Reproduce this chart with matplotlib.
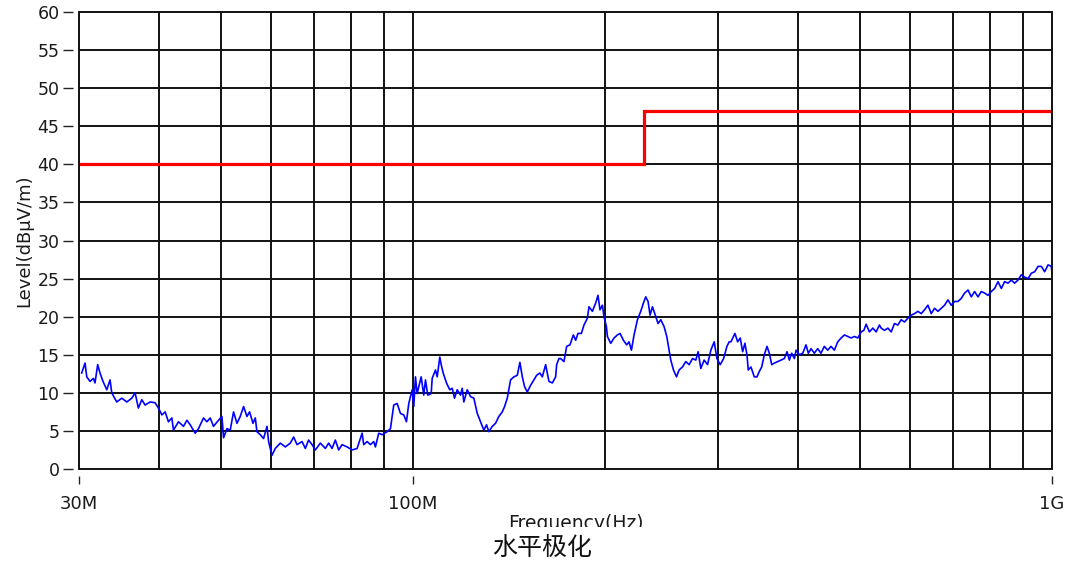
import matplotlib
matplotlib.use("Agg")
import matplotlib.pyplot as plt
from matplotlib.ticker import FixedLocator, NullFormatter
from matplotlib.patches import Rectangle
from matplotlib.transforms import Bbox

# ---- data (frequency in MHz, level in dBuV/m) ----
freq_mhz = [
    30.29, 30.66, 30.85, 31.22, 31.59, 31.78, 32.09, 32.36, 32.71, 33.16, 33.55, 33.76,
    34.37, 35.00, 35.64, 36.29, 36.72, 37.16, 37.62, 38.07, 38.77, 39.47, 39.94, 40.44,
    40.92, 41.41, 41.92, 42.17, 42.93, 43.72, 44.26, 44.79, 45.60, 46.15, 46.99, 47.57,
    48.14, 48.71, 49.60, 50.21, 50.51, 51.13, 51.74, 52.36, 53.01, 53.64, 54.29,
    54.95, 55.47, 56.16, 56.63, 56.97, 57.66, 58.35, 59.07, 59.41, 60.14, 60.86, 61.97,
    63.10, 64.25, 65.02, 65.82, 67.02, 67.82, 68.63, 69.48, 70.31, 71.59, 72.90, 73.77,
    74.68, 75.57, 76.48, 77.42, 78.83, 80.27, 81.73, 83.22, 83.70, 84.74, 85.75, 86.78,
    87.31, 88.36, 89.45, 91.08, 92.17, 93.27, 94.42, 95.55, 96.70, 97.64, 98.46,
    99.06, 99.67, 100.25, 100.86, 101.48, 102.07, 102.96, 103.93, 104.57, 105.44, 106.74,
    107.13, 108.41, 109.08, 110.11, 110.66, 111.46, 112.80, 114.15, 115.14, 116.10, 117.24,
    118.64, 119.37, 120.07, 121.55, 123.00, 124.48, 126.02, 127.52, 129.05, 130.31, 131.40,
    133.02, 134.62, 136.23, 137.91, 139.06, 140.42, 142.10, 143.81, 145.58, 146.96, 148.24,
    149.47, 150.93, 152.74, 154.57, 156.08, 157.95, 159.33, 161.24, 163.17, 165.18, 167.16,
    167.76, 169.16,
    170.20, 172.24, 173.93, 176.01, 178.18, 179.67, 181.16, 183.40, 185.13, 187.42, 188.50,
    190.83, 193.12, 194.72, 196.13, 197.84, 198.98, 200.72, 201.44, 203.85, 206.29, 208.84,
    210.81, 213.41, 215.97, 217.77, 219.66, 221.74, 224.47, 227.16, 229.39, 231.30, 233.22,
    234.92, 236.96, 239.79, 241.79, 244.16, 247.08, 249.50, 251.58, 253.13, 255.61, 258.40,
    260.83, 264.05, 267.21, 270.42, 273.75, 277.04, 279.34, 282.08, 285.46, 288.98, 292.44,
    296.02, 298.92, 302.49, 306.21, 309.90, 312.48,
    314.43, 318.96, 322.11, 325.11, 327.93, 330.66, 333.09, 334.65, 337.92, 342.00, 345.33,
    348.21, 351.27, 354.60, 358.05, 361.05, 364.20, 367.59, 372.18, 376.59, 381.09, 384.87,
    388.08, 391.41, 395.13, 397.59, 402.30, 407.28, 412.11, 415.53, 419.61, 424.59, 429.81,
    434.94, 440.16, 445.59, 450.96, 456.42, 462.03, 467.61, 473.28, 479.10, 484.86, 490.59,
    496.71, 502.59, 507.57, 511.83, 517.89, 524.34, 530.52, 536.91,
    540.27, 546.78, 553.50, 560.19, 566.79, 573.75, 580.65, 587.64, 594.87, 602.04, 609.30,
    616.77, 624.21, 631.59, 639.48, 647.16, 654.81, 663.00, 670.83, 678.90, 687.27, 695.55,
    703.92, 712.56, 721.14, 729.84, 738.78, 747.66, 756.51, 765.96, 775.02, 784.35, 793.98,
    803.52, 813.21, 823.20, 833.10, 842.94, 853.47, 863.55, 873.93, 884.67, 895.32, 906.12,
    917.25, 928.29, 939.48, 951.00, 962.43, 973.80, 985.98, 997.59, 1000.0,
]
level_dbuv = [
    12.6, 13.9, 12.1, 11.5, 11.9, 11.3, 13.7, 12.6, 11.5, 10.4, 11.7, 10.0,
    8.8, 9.3, 8.8, 9.3, 10.0, 8.0, 9.1, 8.4, 8.8, 8.7, 8.0, 7.1,
    7.5, 6.2, 6.7, 5.1, 6.2, 5.6, 6.4, 5.8, 4.7, 5.3, 6.7, 6.2,
    6.7, 5.6, 6.4, 6.9, 4.1, 5.3, 5.1, 7.5, 6.0, 6.9, 8.2,
    6.9, 7.5, 6.0, 6.7, 4.9, 4.5, 4.0, 5.6, 3.6, 1.8, 2.7, 3.4,
    2.9, 3.4, 4.2, 3.2, 3.6, 2.7, 3.8, 3.2, 2.5, 3.4, 2.7, 3.4,
    2.7, 3.8, 2.5, 3.2, 2.9, 2.5, 2.7, 4.7, 3.2, 3.6, 3.2, 3.6,
    2.9, 4.7, 4.5, 4.9, 5.3, 8.4, 8.6, 7.3, 7.1, 6.2, 8.6,
    9.5, 10.4, 8.2, 12.1, 9.9, 10.8, 12.1, 9.7, 11.7, 9.7, 9.9,
    11.9, 13.0, 12.1, 14.7, 13.7, 12.6, 11.3, 10.4, 10.6, 9.3, 10.4,
    9.7, 10.6, 8.8, 10.4, 9.5, 9.3, 7.3, 6.2, 5.1, 5.8, 4.9,
    5.6, 6.0, 6.9, 7.5, 8.2, 9.3, 11.7, 12.1, 12.3, 14.0, 12.1,
    10.8, 10.1, 11.0, 11.7, 12.3, 12.6, 12.1, 13.7, 11.5, 11.3, 12.1,
    13.7, 14.5,
    14.5, 14.1, 16.1, 16.3, 17.6, 16.9, 17.8, 17.8, 18.9, 19.8, 21.3,
    20.7, 21.8, 22.8, 20.9, 21.5, 20.0, 18.7, 17.4, 16.5, 17.2, 17.6,
    17.8, 16.9, 16.3, 16.7, 15.6, 17.6, 19.6, 20.7, 21.8, 22.6, 22.0,
    20.2, 21.3, 20.0, 19.1, 19.6, 18.7, 17.4, 15.6, 14.3, 13.0, 12.1,
    13.0, 13.4, 14.1, 13.7, 14.5, 14.3, 15.4, 13.2, 14.3, 13.7, 15.6,
    16.7, 14.5, 13.7, 14.5, 16.1, 16.7,
    16.7, 17.8, 16.7, 17.2, 15.4, 16.5, 15.0, 13.0, 13.4, 12.1, 12.1,
    12.8, 13.4, 15.0, 16.1, 15.2, 13.7, 13.9, 14.1, 14.3, 14.5, 15.4,
    14.3, 15.2, 14.5, 15.6, 15.0, 15.2, 16.3, 15.2, 15.8, 15.2, 15.8,
    15.2, 16.1, 15.6, 16.1, 15.6, 16.7, 17.2, 17.6, 17.4, 17.2, 17.4,
    17.2, 18.0, 18.2, 19.0, 18.0, 18.5, 18.0, 18.9,
    18.5, 18.2, 18.5, 18.0, 19.1, 18.9, 19.6, 19.3, 19.8, 20.2, 20.4,
    20.7, 20.4, 20.9, 21.5, 20.4, 21.1, 20.7, 21.1, 21.5, 22.2, 21.5,
    22.0, 22.0, 22.4, 23.1, 23.5, 22.6, 23.3, 22.6, 23.3, 23.1, 22.8,
    23.3, 23.7, 24.6, 23.7, 24.6, 24.4, 24.8, 24.4, 24.8, 25.5, 25.2,
    25.0, 25.7, 25.9, 26.6, 26.6, 25.9, 26.8, 26.6, 25.7,
]
limit_freq_mhz = [30, 230, 230, 1000]
limit_level = [40, 40, 47, 47]

x_tick_vals = [30, 100, 1000]
x_tick_labels = ["30M", "100M", "1G"]
x_grid_vals = [40, 50, 60, 70, 80, 90, 100, 200, 300, 400, 500, 600, 700, 800, 900]
y_tick_vals = list(range(0, 61, 5))

# ---- figure ----
W, H = 1069, 567
fig = plt.figure(figsize=(W / 100, H / 100), dpi=100)
L, R, T, B = 79, 1052, 12, 469
ax = fig.add_axes([L / W, 1 - B / H, (R - L) / W, (B - T) / H])

ax.set_xscale("log")
ax.set_xlim(30, 1000)
ax.set_ylim(0, 60)

grid_kw = dict(color="#111111", lw=1.4, zorder=1)
for gx in x_grid_vals:
    ax.axvline(gx, **grid_kw)
for gy in y_tick_vals[1:-1]:
    ax.axhline(gy, **grid_kw)

ax.plot(limit_freq_mhz, limit_level, color="#ff0000", lw=2.3, zorder=3,
        solid_joinstyle="miter")
ax.plot(freq_mhz, level_dbuv, color="#0000ff", lw=1.2, zorder=4)

# frame
for s in ax.spines.values():
    s.set_visible(False)
ax.add_patch(Rectangle((0, 0), 1, 1, transform=ax.transAxes, fill=False,
                       lw=1.4, edgecolor="#111111", zorder=5, clip_on=False))
ax.spines["left"].set_position(("outward", 4))
ax.spines["bottom"].set_position(("outward", 5))

ax.xaxis.set_major_locator(FixedLocator(x_tick_vals))
ax.set_xticklabels(x_tick_labels)
ax.xaxis.set_minor_locator(FixedLocator([]))
ax.xaxis.set_minor_formatter(NullFormatter())
ax.set_yticks(y_tick_vals)

ax.tick_params(axis="both", which="major", direction="out", length=7,
               width=1.0, color="#222222", labelcolor="#1a1a1a", pad=3)
ax.tick_params(axis="y", labelsize=12.5)
ax.tick_params(axis="x", length=6, pad=8, labelsize=13)

ax.set_ylabel("Level(dBμV/m)", fontsize=13, color="#1a1a1a", labelpad=3)

# clipped x-axis label (cut off at the bottom in the reference)
xl = fig.text(576 / W, 1 - 514 / H, "Frequency(Hz)", ha="center", va="top",
              fontsize=13.5, color="#1a1a1a")
xl.set_clip_on(True)
xl.set_clip_box(Bbox.from_extents(0, H - 527, W, H))

fig.text(542 / W, 1 - 549 / H, "水平极化", ha="center", va="center",
         fontsize=18, color="#111111",
         family=["Noto Sans CJK SC", "DejaVu Sans"])

fig.savefig("out.png", dpi=100, facecolor="white")
